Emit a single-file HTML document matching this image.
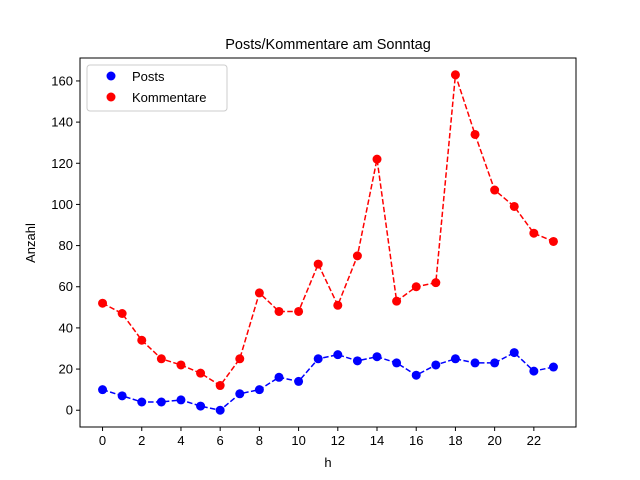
<!DOCTYPE html>
<html><head><meta charset="utf-8"><style>
html,body{margin:0;padding:0;background:#fff;}
svg{display:block;font-family:"Liberation Sans","DejaVu Sans",sans-serif;}
</style></head><body>
<svg id="chart" width="640" height="480" xmlns="http://www.w3.org/2000/svg">
<rect width="640" height="480" fill="#fff"/>
<text x="328" y="49" text-anchor="middle" font-size="14.5">Posts/Kommentare am Sonntag</text>
<text x="328" y="467" text-anchor="middle" font-size="13">h</text>
<text transform="translate(35,243) rotate(-90)" text-anchor="middle" font-size="13">Anzahl</text>
<g id="ticks"></g>
<g id="series"></g>
<rect x="80" y="58" width="496" height="369" fill="none" stroke="#000" stroke-width="1"/>
<g>
<rect x="87" y="65" width="140" height="46" rx="3" fill="#fff" fill-opacity="0.8" stroke="#ccc"/>
<g>
<circle cx="111" cy="76" r="4.5" fill="#0000ff"/>
<text x="132" y="81" font-size="13">Posts</text></g>
<g>
<circle cx="111" cy="97" r="4.5" fill="#ff0000"/>
<text x="132" y="102" font-size="13">Kommentare</text></g>
</g>
</svg>
<script>
const hours=[0,1,2,3,4,5,6,7,8,9,10,11,12,13,14,15,16,17,18,19,20,21,22,23];
const posts=[10,7,4,4,5,2,0,8,10,16,14,25,27,24,26,23,17,22,25,23,23,28,19,21];
const kommentare=[52,47,34,25,22,18,12,25,57,48,48,71,51,75,122,53,60,62,163,134,107,99,86,82];
const xTicks=[0,2,4,6,8,10,12,14,16,18,20,22];
const yTicks=[0,20,40,60,80,100,120,140,160];
const L=80,R=576,T=58,B=427;
const xmin=-1.15,xmax=24.15,ymin=-8.15,ymax=171.15;
const sx=v=>L+(v-xmin)/(xmax-xmin)*(R-L);
const sy=v=>B-(v-ymin)/(ymax-ymin)*(B-T);
const NS="http://www.w3.org/2000/svg";
const tg=document.getElementById('ticks');
xTicks.forEach(t=>{
 const l=document.createElementNS(NS,'line');
 l.setAttribute('x1',sx(t));l.setAttribute('x2',sx(t));l.setAttribute('y1',B);l.setAttribute('y2',B+4);l.setAttribute('stroke','#000');
 
 
 tg.appendChild(l);
 const tx=document.createElementNS(NS,'text');
 tx.setAttribute('x',sx(t));tx.setAttribute('y',B+18);tx.setAttribute('text-anchor','middle');tx.setAttribute('font-size','13');
 tx.textContent=t;
 
 
 tg.appendChild(tx);
});
yTicks.forEach(t=>{
 const l=document.createElementNS(NS,'line');
 l.setAttribute('x1',L-4);l.setAttribute('x2',L);l.setAttribute('y1',sy(t));l.setAttribute('y2',sy(t));l.setAttribute('stroke','#000');
 
 
 tg.appendChild(l);
 const tx=document.createElementNS(NS,'text');
 tx.setAttribute('x',L-7);tx.setAttribute('y',sy(t)+4.5);tx.setAttribute('text-anchor','end');tx.setAttribute('font-size','13');
 tx.textContent=t;
 
 
 tg.appendChild(tx);
});
const sg=document.getElementById('series');
function drawSeries(vals,color,name){
 const g=document.createElementNS(NS,'g');
 
 
 const p=document.createElementNS(NS,'polyline');
 p.setAttribute('points',vals.map((v,i)=>sx(hours[i])+','+sy(v)).join(' '));
 p.setAttribute('fill','none');p.setAttribute('stroke',color);p.setAttribute('stroke-width','1.5');p.setAttribute('stroke-dasharray','5.5,2.4');
 
 
 g.appendChild(p);
 vals.forEach((v,i)=>{
  const c=document.createElementNS(NS,'circle');
  c.setAttribute('cx',sx(hours[i]));c.setAttribute('cy',sy(v));c.setAttribute('r','4.5');c.setAttribute('fill',color);
  
  
  g.appendChild(c);
 });
 sg.appendChild(g);
}
drawSeries(posts,'#0000ff','posts');
drawSeries(kommentare,'#ff0000','kommentare');
</script>
</body></html>
